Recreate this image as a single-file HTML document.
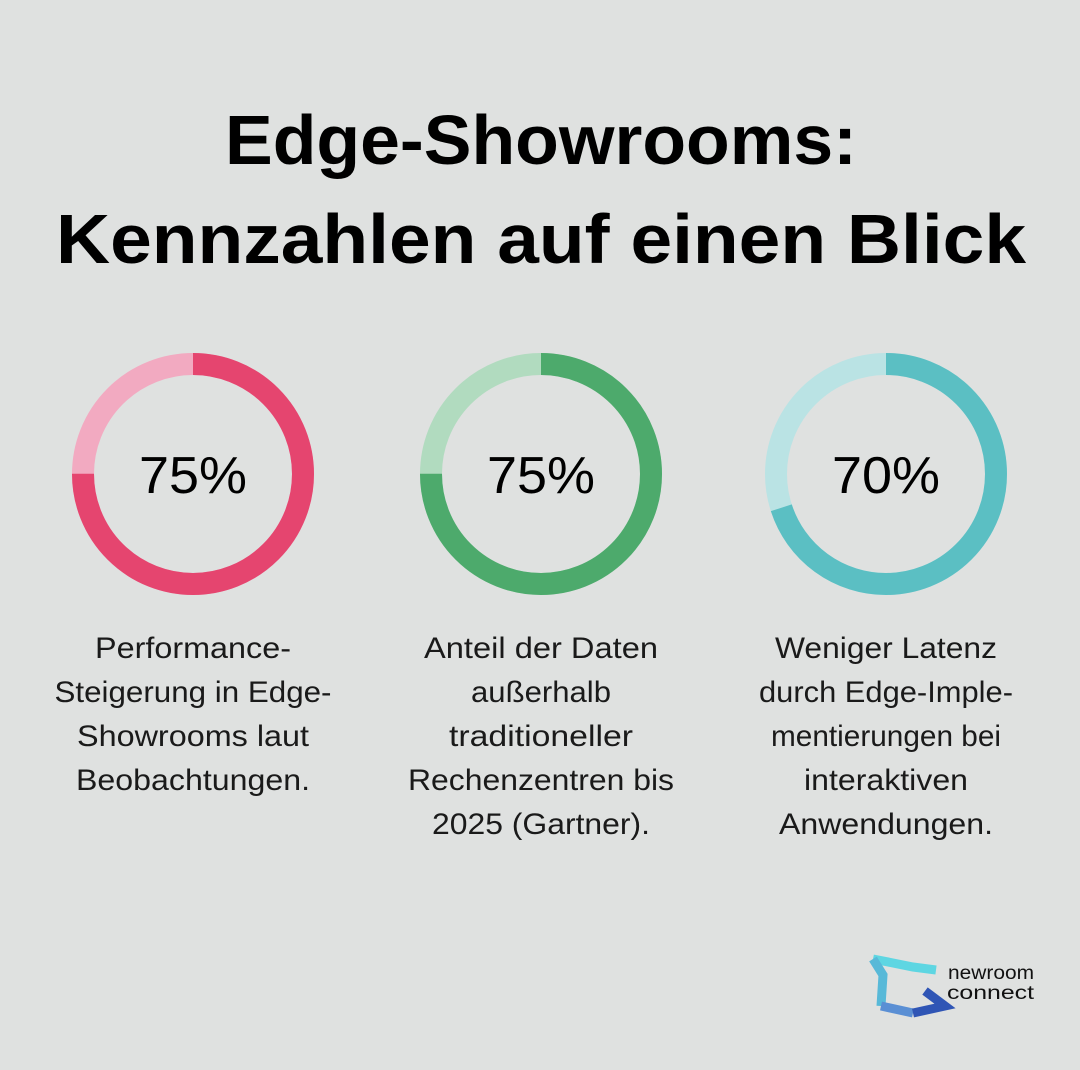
<!DOCTYPE html>
<html><head><meta charset="utf-8"><style>
html,body{margin:0;padding:0;background:#dfe1e0;}
svg{display:block}
text{font-family:"Liberation Sans",sans-serif;}
</style></head><body>
<svg width="1080" height="1070" viewBox="0 0 1080 1070">
<rect width="1080" height="1070" fill="#dfe1e0"/>
<g font-weight="bold" font-size="70" text-anchor="middle" fill="#000">
<text x="541" y="164" textLength="632" lengthAdjust="spacingAndGlyphs">Edge-Showrooms:</text>
<text x="541" y="263" textLength="970" lengthAdjust="spacingAndGlyphs">Kennzahlen auf einen Blick</text>
</g>
<g fill="none" stroke-width="22">
<circle cx="193" cy="474" r="110" stroke="#f2aac1"/>
<circle cx="193" cy="474" r="110" stroke="#e5456f" stroke-dasharray="518.4 700" transform="rotate(-90 193 474)"/>
<circle cx="541" cy="474" r="110" stroke="#b1dbbf"/>
<circle cx="541" cy="474" r="110" stroke="#4daa6c" stroke-dasharray="518.4 700" transform="rotate(-90 541 474)"/>
<circle cx="886" cy="474" r="110" stroke="#bae3e4"/>
<circle cx="886" cy="474" r="110" stroke="#5bbfc3" stroke-dasharray="483.8 700" transform="rotate(-90 886 474)"/>
</g>
<g font-size="52" text-anchor="middle" fill="#000">
<text x="193" y="493" textLength="108" lengthAdjust="spacingAndGlyphs">75%</text>
<text x="541" y="493" textLength="108" lengthAdjust="spacingAndGlyphs">75%</text>
<text x="886" y="493" textLength="108" lengthAdjust="spacingAndGlyphs">70%</text>
</g>
<g font-size="30" text-anchor="middle" fill="#1a1a1a">
<text x="193" y="658" textLength="196" lengthAdjust="spacingAndGlyphs">Performance-</text>
<text x="193" y="702" textLength="277" lengthAdjust="spacingAndGlyphs">Steigerung in Edge-</text>
<text x="193" y="746" textLength="232" lengthAdjust="spacingAndGlyphs">Showrooms laut</text>
<text x="193" y="790" textLength="234" lengthAdjust="spacingAndGlyphs">Beobachtungen.</text>
<text x="541" y="658" textLength="234" lengthAdjust="spacingAndGlyphs">Anteil der Daten</text>
<text x="541" y="702" textLength="140" lengthAdjust="spacingAndGlyphs">außerhalb</text>
<text x="541" y="746" textLength="184" lengthAdjust="spacingAndGlyphs">traditioneller</text>
<text x="541" y="790" textLength="266" lengthAdjust="spacingAndGlyphs">Rechenzentren bis</text>
<text x="541" y="834" textLength="218" lengthAdjust="spacingAndGlyphs">2025 (Gartner).</text>
<text x="886" y="658" textLength="222" lengthAdjust="spacingAndGlyphs">Weniger Latenz</text>
<text x="886" y="702" textLength="254" lengthAdjust="spacingAndGlyphs">durch Edge-Imple-</text>
<text x="886" y="746" textLength="230" lengthAdjust="spacingAndGlyphs">mentierungen bei</text>
<text x="886" y="790" textLength="164" lengthAdjust="spacingAndGlyphs">interaktiven</text>
<text x="886" y="834" textLength="214" lengthAdjust="spacingAndGlyphs">Anwendungen.</text>
</g>
<g fill="none" stroke-width="9" stroke-linejoin="miter">
<polyline points="873,959 913,967 936,970" stroke="#5ed6e2"/>
<polyline points="873,959 883,975 881,1006" stroke="#58b9d8"/>
<polyline points="881,1006 913,1013" stroke="#5a8fd4"/>
<polyline points="913,1013 945,1006 925,991" stroke="#2f55b5"/>
</g>
<g font-size="19" fill="#111">
<text x="948" y="979" textLength="86" lengthAdjust="spacingAndGlyphs">newroom</text>
<text x="947" y="999" textLength="87" lengthAdjust="spacingAndGlyphs">connect</text>
</g>
</svg>
</body></html>
